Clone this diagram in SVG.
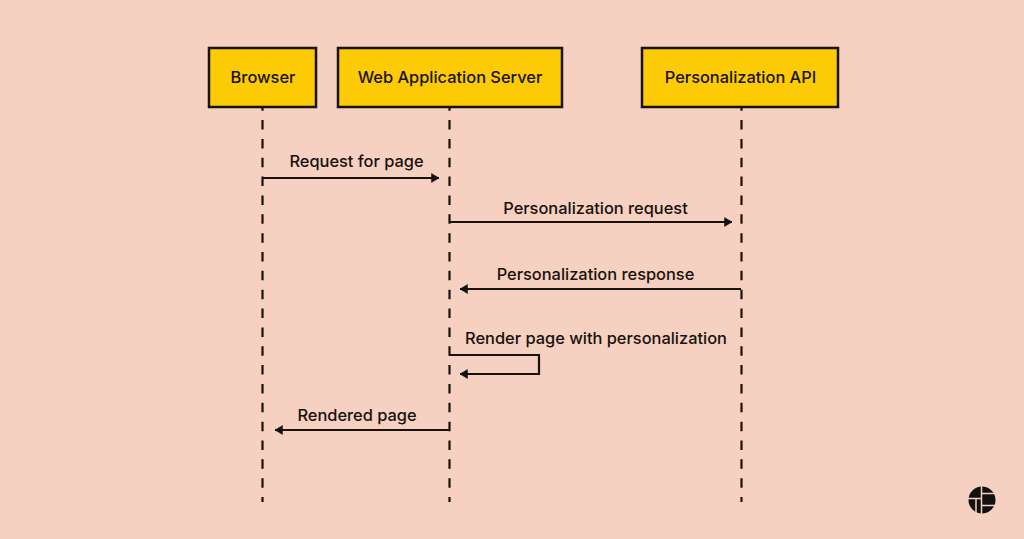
<svg xmlns="http://www.w3.org/2000/svg" width="1024" height="539" viewBox="0 0 1024 539">
<defs><marker id="a" markerUnits="userSpaceOnUse" markerWidth="12" markerHeight="12" refX="10" refY="6" orient="auto"><path d="M2.500 1.500L10 6L2.500 10.500Z" fill="#111" stroke="#111" stroke-width=".5"/></marker></defs>
<style>
.b{fill:#fdcb05;stroke:#17120c;stroke-width:2.500}
.t{font-family:"Inter","Liberation Sans",sans-serif;font-size:16.400px;font-weight:550;fill:#17120c;text-anchor:middle}
.l{stroke:#17120c;stroke-width:2.200;stroke-dasharray:9.500 9.350;fill:none}
.c{stroke:#17120c;stroke-width:2.200;fill:none;marker-end:url(#a)}
.g{stroke:#f6d0c1;stroke-width:1.500;fill:none}
</style>
<rect width="1024" height="539" fill="#f6d0c1"/>
<g id="lifelines"><path class="l" d="M262.500 101.200V502"/><path class="l" d="M449.500 101.200V502"/><path class="l" d="M741.500 101.200V502"/></g>
<g id="browser"><rect class="b" x="209" y="48" width="107" height="59"/><text class="t" x="263" y="83">Browser</text></g>
<g id="server"><rect class="b" x="338" y="48" width="224" height="59"/><text class="t" x="450" y="83">Web Application Server</text></g>
<g id="api"><rect class="b" x="642" y="48" width="196" height="59"/><text class="t" x="740.500" y="83">Personalization API</text></g>
<g id="connectors">
<path class="c" d="M262 178H439"/><path class="c" d="M449 222H732"/><path class="c" d="M741 289H460"/><path class="c" d="M449 355H539V374H460"/><path class="c" d="M449 430H275"/>
</g>
<g id="labels">
<text class="t" x="356.500" y="167">Request for page</text><text class="t" x="595.500" y="214">Personalization request</text><text class="t" x="595.500" y="280">Personalization response</text><text class="t" x="596" y="344">Render page with personalization</text><text class="t" x="357" y="421">Rendered page</text>
</g>
<g id="logo"><circle cx="982" cy="500" r="13.500" fill="#111"/><path class="g" d="M981.500 486V514M968 498.500H981.500M976 498.500V514M981.500 493.500H996M981.500 505.500H996"/></g>
</svg>
